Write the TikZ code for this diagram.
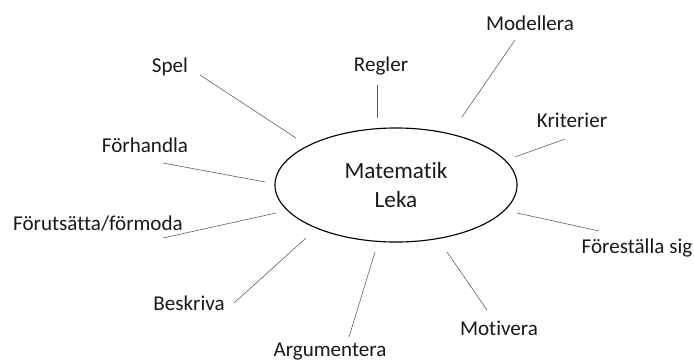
\documentclass[tikz,border=0pt]{standalone}
\usepackage{fontspec}
\setmainfont[Ligatures=NoCommon]{Carlito}
\usetikzlibrary{shapes.geometric}

\begin{document}
\begin{tikzpicture}[x=0.025cm,y=-0.025cm,every node/.style = {font=\fontsize{15}{18}\selectfont, inner sep=0pt, text=black!90},hub/.style = {shape = ellipse, draw, thick, minimum width = 6.05cm, minimum height = 2.85cm, align = center, font=\fontsize{16.5}{21}\selectfont},spoke/.style = {-, thin, black!65}]
\useasboundingbox (0,0) rectangle (694,363);
\node[hub](hub) at (396,185) {Matematik \\ Leka};
  \node(regler)  at (381,66)  {Regler};
  \node(spel)  at (170,67)  {Spel};
  \node(modellera)  at (530,23)  {Modellera};
  \node(kriterier)  at (572,120) {Kriterier};
  \node(forhandla)  at (145,145) {Förhandla};
  \node(forutsatta)  at (98,224) {Förutsätta/förmoda};
  \node(forestalla)  at (637,248) {Föreställa sig};
  \node(beskriva)  at (189,303) {Beskriva};
  \node(argumentera)  at (330,352) {Argumentera};
  \node(motivera)  at (499,328) {Motivera};
% spoke ends: outer (near label), inner (near hub)
\foreach \n/\ox/\oy/\ix/\iy in {regler/377/85/377/118, spel/200/75/296/138, modellera/515/40/462/117, kriterier/565/139/515/157, forhandla/163/163/265/182, forutsatta/163/238/276/213, forestalla/599/231/517/213, beskriva/234/303/306/238, argumentera/349/337/375/252, motivera/487/310/447/252}
  { \coordinate(\n-out) at (\ox,\oy);
    \coordinate(\n-in) at (\ix,\iy);
    \draw[spoke] (\n-out) -- (\n-in); }
\end{tikzpicture}
\end{document}
